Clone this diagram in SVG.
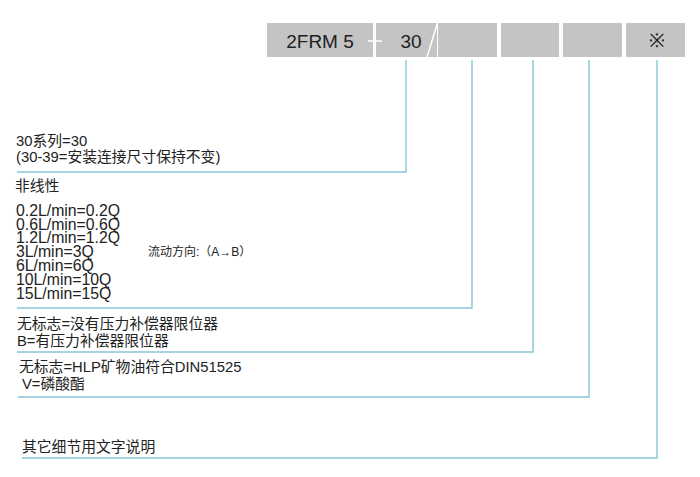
<svg xmlns="http://www.w3.org/2000/svg" width="700" height="477" viewBox="0 0 700 477">
<style>
.box{fill:#c4c4c4}
.bt{font-family:"Liberation Sans",Arial,sans-serif;font-size:19px;fill:#222}
.t{font-family:"Liberation Sans","Noto Sans CJK SC",sans-serif;font-size:14.8px;fill:#222}
.n{font-family:"Liberation Sans","Noto Sans CJK SC",sans-serif;font-size:15.8px;fill:#222}
.s{font-family:"Liberation Sans","Noto Sans CJK SC",sans-serif;font-size:12px;fill:#222}
.c{fill:none;stroke:#88c6d6;stroke-width:1.4}
</style>
<rect width="700" height="477" fill="#fff"/>
<g id="box1"><rect class="box" x="267" y="23" width="106" height="34"/><text class="bt" x="320" y="47.5" text-anchor="middle">2FRM 5</text></g>
<g id="box2"><rect class="box" x="376" y="23" width="61" height="34"/><text class="bt" x="411" y="47.5" text-anchor="middle">30</text></g>
<g id="box3"><rect class="box" x="438" y="23" width="59" height="34"/></g>
<g id="box4"><rect class="box" x="501" y="23" width="58" height="34"/></g>
<g id="box5"><rect class="box" x="563" y="23" width="59" height="34"/></g>
<g id="box6"><rect class="box" x="626" y="23" width="59" height="34"/><text class="bt" x="657" y="47" text-anchor="middle">※</text></g>
<g id="marks" stroke="#fff" stroke-width="1.5">
<line x1="368" y1="41" x2="382" y2="41"/>
<line x1="437.5" y1="23" x2="427" y2="57"/>
</g>
<g id="connectors">
<polyline class="c" points="406,60 406,172 17,172"/>
<polyline class="c" points="472,60 472,308 17,308"/>
<polyline class="c" points="533,60 533,352 17,352"/>
<polyline class="c" points="589,60 589,397 18,397"/>
<polyline class="c" points="657,60 657,458 22,458"/>
</g>
<g id="texts">
<text class="t" x="16" y="146">30系列=30</text>
<text class="t" x="16" y="162">(30-39=安装连接尺寸保持不变)</text>
<text class="t" x="15" y="191">非线性</text>
<text class="n" x="16" y="216">0.2L/min=0.2Q</text>
<text class="n" x="16" y="229.5">0.6L/min=0.6Q</text>
<text class="n" x="16" y="243">1.2L/min=1.2Q</text>
<text class="n" x="16" y="257">3L/min=3Q</text>
<text class="n" x="16" y="271">6L/min=6Q</text>
<text class="n" x="16" y="285">10L/min=10Q</text>
<text class="n" x="16" y="299">15L/min=15Q</text>
<text class="s" x="148" y="256">流动方向:（A→B）</text>
<text class="t" x="17" y="329">无标志=没有压力补偿器限位器</text>
<text class="t" x="17" y="346">B=有压力补偿器限位器</text>
<text class="t" x="19" y="372">无标志=HLP矿物油符合DIN51525</text>
<text class="t" x="22" y="389">V=磷酸酯</text>
<text class="t" x="22" y="452">其它细节用文字说明</text>
</g>
</svg>
